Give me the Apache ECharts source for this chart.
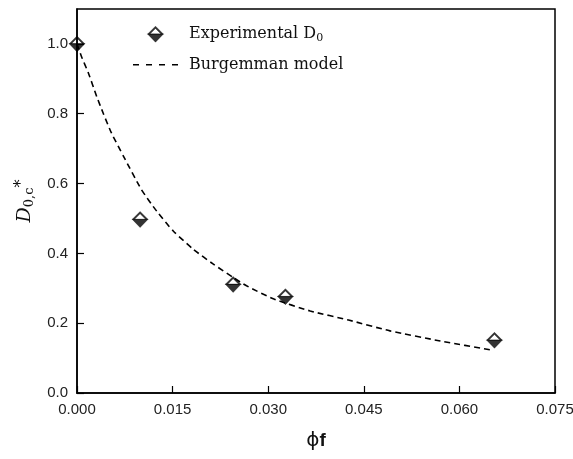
<!DOCTYPE html>
<html>
<head>
<meta charset="utf-8">
<script src="https://cdn.jsdelivr.net/npm/echarts@6/dist/echarts.min.js"></script>
<style>
html,body{margin:0;padding:0;background:#fff;}
#chart{width:573px;height:459px;}
</style>
</head>
<body>
<div id="chart"></div>
<script>
// Experimental points
const expX = [0.0, 0.0099, 0.0245, 0.0327, 0.0655];
const expY = [1.0, 0.497, 0.311, 0.276, 0.151];
// Burgemman model curve
const modelX = [0.0, 0.0007, 0.0018, 0.0031, 0.0041, 0.0054, 0.0073, 0.0101, 0.0125, 0.0151, 0.0183, 0.0214, 0.0245, 0.0266, 0.0308, 0.0366, 0.0426, 0.0491, 0.057, 0.0651];
const modelY = [1.0, 0.964, 0.916, 0.849, 0.802, 0.745, 0.678, 0.583, 0.521, 0.464, 0.411, 0.369, 0.331, 0.307, 0.27, 0.235, 0.209, 0.178, 0.149, 0.123];
const xTicks = [0, 0.015, 0.03, 0.045, 0.06, 0.075];
const yTicks = [0, 0.2, 0.4, 0.6, 0.8, 1.0];

const halfDiamond = 'path://M50,0 L100,50 L0,50 Z M50,14 L14,50 L86,50 Z M0,48 L100,48 L50,100 Z';
const dashIcon = 'path://M0,0 h6 v1.6 h-6 Z M13,0 h6 v1.6 h-6 Z M26,0 h6 v1.6 h-6 Z M39,0 h6 v1.6 h-6 Z';

const chart = echarts.init(document.getElementById('chart'));
chart.setOption({
  backgroundColor: '#fff',
  animation: false,
  grid: {left: 77, right: 18, top: 9, bottom: 66, outerBoundsMode: 'none', show: true, borderColor: '#000', borderWidth: 1.5, backgroundColor: 'transparent'},
  legend: {
    orient: 'vertical', left: 128, top: 21, itemWidth: 45, itemHeight: 16, itemGap: 13,
    textStyle: {fontFamily: 'DejaVu Serif', fontSize: 16, color: '#111', padding: [0,0,0,6],
      rich: {a: {fontFamily: 'DejaVu Serif', fontSize: 16, color: '#111'},
             s: {fontFamily: 'DejaVu Serif', fontSize: 11, color: '#111', verticalAlign: 'bottom', padding: [8,0,0,0]}}},
    formatter: function (n) { return n === 'Experimental D0' ? '{a|Experimental D}{s|0}' : '{a|' + n + '}'; },
    data: [{name: 'Experimental D0', icon: halfDiamond, itemStyle: {color: '#000', borderColor: '#000', borderWidth: 0.4}},
           {name: 'Burgemman model', icon: dashIcon, itemStyle: {color: '#000', borderWidth: 0}}]
  },
  xAxis: {
    type: 'value', min: xTicks[0], max: xTicks[xTicks.length - 1], interval: 0.015,
    name: '{p|ϕ}{f|f}', nameLocation: 'middle', nameGap: 38,
    nameTextStyle: {rich: {p: {fontFamily: 'DejaVu Sans', fontSize: 20, color: '#111'}, f: {fontFamily: 'Liberation Sans', fontSize: 19, fontWeight: 'bold', color: '#111'}}},
    axisLine: {show: true, lineStyle: {color: '#000', width: 1.5}},
    axisTick: {show: true, inside: true, length: 7, lineStyle: {color: '#000', width: 1.2}},
    axisLabel: {margin: 9, fontFamily: 'Liberation Sans', fontSize: 15, color: '#222', formatter: v => v.toFixed(3)},
    splitLine: {show: false}
  },
  yAxis: {
    type: 'value', min: 0, max: 1.1, interval: 0.2,
    name: '{d|D}{s|0,c}{u|*}', nameLocation: 'middle', nameGap: 40, nameRotate: 90,
    nameTextStyle: {rich: {
      d: {fontFamily: 'DejaVu Serif', fontStyle: 'italic', fontSize: 19, color: '#111'},
      s: {fontFamily: 'DejaVu Serif', fontSize: 13, color: '#111', verticalAlign: 'bottom', padding: [9,0,0,0]},
      u: {fontFamily: 'DejaVu Serif', fontSize: 16, color: '#111', verticalAlign: 'top', padding: [0,0,6,0]}}},
    axisLine: {show: true, lineStyle: {color: '#000', width: 1.5}},
    axisTick: {show: true, inside: true, length: 7, lineStyle: {color: '#000', width: 1.2}},
    axisLabel: {margin: 9, fontFamily: 'Liberation Sans', fontSize: 15, color: '#222', showMaxLabel: false, formatter: v => v.toFixed(1)},
    splitLine: {show: false}
  },
  series: [
    {
      name: 'Experimental D0', type: 'scatter', symbol: halfDiamond, symbolSize: 16, clip: true, z: 3,
      itemStyle: {color: '#000', borderColor: '#000', borderWidth: 0.4},
      data: expX.map((x, i) => [x, expY[i]])
    },
    {
      name: 'Burgemman model', type: 'line', smooth: 0.2, symbol: 'none', showSymbol: false, z: 2,
      lineStyle: {color: '#000', width: 1.6, type: [6, 4]},
      itemStyle: {color: '#000'},
      data: modelX.map((x, i) => [x, modelY[i]])
    }
  ]
});
</script>
</body>
</html>
